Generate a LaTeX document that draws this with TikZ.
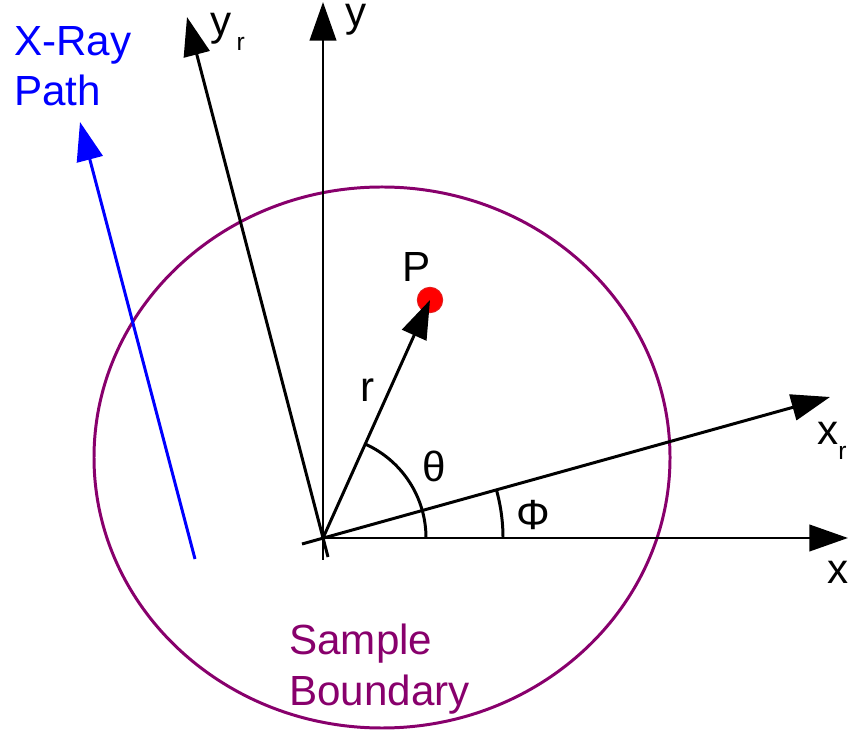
\documentclass[tikz,border=0pt]{standalone}
\usepackage{fontspec}
\setmainfont{Liberation Sans}
\usetikzlibrary{arrows.meta}
\definecolor{bndc}{RGB}{136,0,108}
\definecolor{rayc}{RGB}{0,0,255}
\newcommand{\subr}{\raisebox{-8pt}{\fontsize{14}{14}\selectfont r}}
\tikzset{
  ax/.style={line width=1.7pt,black,-{Triangle[length=22pt,width=15pt]}},
  axl/.style={line width=1.7pt,black},
  ray/.style={line width=1.7pt,rayc,-{Triangle[length=22pt,width=15pt]}},
  bnd/.style={line width=1.7pt,bndc},
  lbl/.style={font=\fontsize{24}{29}\selectfont,inner sep=0pt},
  dot/.style={circle,fill=red,draw=red!75!gray,line width=0.5pt,minimum size=14.5pt,inner sep=0pt},
}

\begin{document}
\begin{tikzpicture}[x=0.02cm,y=0.02cm]
  \useasboundingbox (0,0) rectangle (854,733);
  % frame and rotated frame
  \coordinate (O) at (323,195);
  \coordinate (xtip) at (848,195);
  \coordinate (ytail) at (323,173);
  \coordinate (ytip) at (323,731);
  \coordinate (yrtail) at (328,176);
  \coordinate (yrtip) at (187,716);
  \coordinate (xrtail) at (302,189);
  \coordinate (xrtip) at (830,336);
  \draw[bnd] (382,275.5) ellipse[x radius=288,y radius=270.5];
  \draw[ax] (O) -- (xtip);
  \draw[ax] (ytail) -- (ytip);
  \draw[ax] (yrtail) -- (yrtip);
  \draw[ax] (xrtail) -- (xrtip);
  % angles
  \draw[axl] (O) ++(0:103) arc[start angle=0,end angle=65.7,radius=103];
  \draw[axl] (O) ++(0:180) arc[start angle=0,end angle=15.5,radius=180];
  % point P
  \node[dot] (Pdot) at (430,433) {};
  \draw[ax] (O) -- (Pdot.center);
  % x-ray path
  \coordinate (raytail) at (195,174);
  \coordinate (raytip) at (80,611);
  \draw[ray] (raytail) -- (raytip);
  % labels
  \node[lbl,anchor=base west] (ylbl) at (345,706) {y};
  \node[lbl,anchor=base west] (yrlbl) at (210,697) {y\hspace{3pt}\subr};
  \node[lbl,anchor=base west] (xrlbl) at (817,288) {x\subr};
  \node[lbl,anchor=base west] (xlbl) at (827,150) {x};
  \node[lbl] (thlbl) at (434,267) {θ};
  \node[lbl] (philbl) at (533,218) {Φ};
  \node[lbl,anchor=base west] (plbl) at (402,451) {P};
  \node[lbl,anchor=base west] (rlbl) at (360,331) {r};
  \node[lbl,text=rayc,anchor=base west,align=left] (raylbl) at (14,627) {X-Ray\\Path};
  \node[lbl,text=bndc,anchor=base west,align=left] (bndlbl) at (289,28) {Sample\\Boundary};
\end{tikzpicture}
\end{document}
